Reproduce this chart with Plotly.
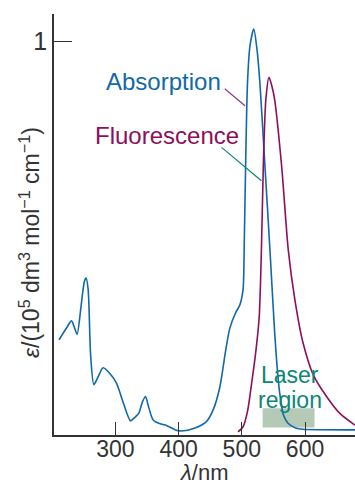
import plotly.graph_objects as go

# Absorption spectrum (wavelength nm, epsilon / 1e5 dm3 mol-1 cm-1)
abs_wl = [211, 222, 230.7, 236, 239.6, 246, 251, 253.8, 257, 261, 266, 272, 280.7, 292, 302, 313,
          324, 331, 337, 343, 347.8, 352, 359.8, 370, 381, 395, 404.7, 425, 444, 455, 465, 475,
          481, 490, 497, 502, 504, 506, 509, 513, 519, 524, 528.6, 536.6, 544.5, 552, 556, 560,
          566, 573, 585, 597, 679]
abs_eps = [0.242, 0.27, 0.290, 0.27, 0.256, 0.33, 0.39, 0.399, 0.37, 0.2, 0.128, 0.145, 0.171, 0.155,
           0.131, 0.08, 0.036, 0.045, 0.055, 0.085, 0.098, 0.075, 0.038, 0.029, 0.024, 0.013, 0.010,
           0.017, 0.034, 0.065, 0.12, 0.22, 0.271, 0.31, 0.331, 0.37, 0.5, 0.683, 0.895, 0.99, 1.032,
           0.98, 0.895, 0.683, 0.47, 0.259, 0.17, 0.106, 0.05, 0.030, 0.018, 0.0145, 0.013]

# Fluorescence spectrum
flu_wl = [494, 502, 509, 515.5, 522, 527.5, 531, 534, 538, 543, 547, 552, 563, 573.5, 584, 597,
          613, 634, 655, 679]
flu_eps = [0.008, 0.021, 0.06, 0.131, 0.21, 0.30, 0.47, 0.683, 0.852, 0.909, 0.89, 0.852, 0.683,
           0.47, 0.343, 0.233, 0.153, 0.098, 0.055, 0.025]

# Laser region band
laser_wl = [533, 615]
laser_eps = [0.019, 0.068]

x_ticks = [300, 400, 500, 600]
y_ticks = [1]

BLUE = "#1169a8"
MAG = "#8c0f5c"
TEAL = "#0b8677"
AX = "#333333"
FONT = "Liberation Sans, Arial, Helvetica, sans-serif"

fig = go.Figure()
fig.add_trace(go.Scatter(x=abs_wl, y=abs_eps, mode="lines",
                         line=dict(color=BLUE, width=1.6, shape="spline", smoothing=0.7),
                         showlegend=False, hoverinfo="skip"))
fig.add_trace(go.Scatter(x=flu_wl, y=flu_eps, mode="lines",
                         line=dict(color=MAG, width=1.6, shape="spline", smoothing=0.7),
                         showlegend=False, hoverinfo="skip"))

fig.add_shape(type="rect", x0=laser_wl[0], x1=laser_wl[1], y0=laser_eps[0], y1=laser_eps[1],
              xref="x", yref="y", fillcolor="#b4cab7", line=dict(width=0), layer="below")

# callout lines
fig.add_shape(type="line", x0=473, y0=0.880, x1=505, y1=0.837, xref="x", yref="y",
              line=dict(color="#8a3a8c", width=1.2))
fig.add_shape(type="line", x0=468, y0=0.731, x1=531, y1=0.646, xref="x", yref="y",
              line=dict(color=TEAL, width=1.2))

fig.add_annotation(x=470, y=0.898, xref="x", yref="y", text="Absorption", showarrow=False,
                   xanchor="right", yanchor="middle", font=dict(family=FONT, size=24, color=BLUE))
fig.add_annotation(x=498, y=0.761, xref="x", yref="y", text="Fluorescence", showarrow=False,
                   xanchor="right", yanchor="middle", font=dict(family=FONT, size=24, color=MAG))
fig.add_annotation(x=576, y=0.153, xref="x", yref="y", text="Laser", showarrow=False,
                   xanchor="center", yanchor="middle", font=dict(family=FONT, size=23, color=TEAL))
fig.add_annotation(x=576, y=0.089, xref="x", yref="y", text="region", showarrow=False,
                   xanchor="center", yanchor="middle", font=dict(family=FONT, size=23, color=TEAL))

# axis titles
fig.add_annotation(x=-0.08, y=0.458, xref="paper", yref="paper",
                   text="<i>ε</i>/(10<sup>5</sup> dm<sup>3</sup> mol<sup>−1</sup> cm<sup>−1</sup>)",
                   textangle=-90, showarrow=False, xanchor="center", yanchor="middle",
                   font=dict(family=FONT, size=23, color=AX))
fig.add_annotation(x=0.5, y=-0.09, xref="paper", yref="paper", text="<i>λ</i>/nm",
                   showarrow=False, xanchor="center", yanchor="middle",
                   font=dict(family=FONT, size=22, color=AX))

fig.update_xaxes(range=[203, 679], tickvals=x_ticks, ticks="inside", ticklen=13, tickwidth=1.3,
                 tickcolor=AX, showline=True, linecolor=AX, linewidth=1.5, showgrid=False,
                 zeroline=False, automargin=False, ticklabelstandoff=-7,
                 tickfont=dict(family=FONT, size=23, color=AX))
fig.update_yaxes(range=[0, 1.07], tickvals=y_ticks, ticks="inside", ticklen=18, tickwidth=1.3,
                 tickcolor=AX, showline=True, linecolor=AX, linewidth=1.5, showgrid=False,
                 zeroline=False, automargin=False, tickfont=dict(family=FONT, size=25, color=AX))

fig.update_layout(width=355, height=484, margin=dict(l=54, r=0, t=14, b=49),
                  paper_bgcolor="white", plot_bgcolor="white", font=dict(family=FONT))

fig.write_html("out.html", config={"displayModeBar": False},
               post_script="document.body.style.margin='0';document.body.style.overflow='hidden';")
